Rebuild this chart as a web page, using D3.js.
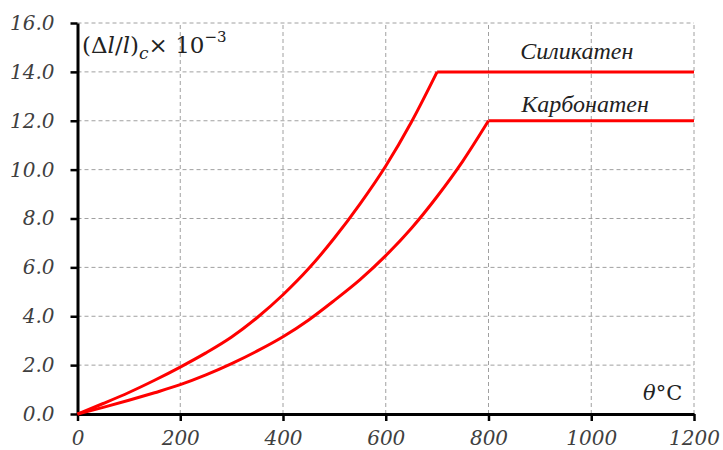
<!DOCTYPE html>
<html><head><meta charset="utf-8">
<script src="https://cdn.jsdelivr.net/npm/d3@7"></script>
<style>body{margin:0;background:#fff}svg{display:block}</style>
</head><body>
<svg id="c" width="723" height="450"></svg>
<script>
const xTicks = [0, 200, 400, 600, 800, 1000, 1200];
const yTicks = [0, 2, 4, 6, 8, 10, 12, 14, 16];
const silicateT = [0, 50, 100, 150, 200, 250, 300, 350, 400, 450, 500, 550, 600, 650, 700];
const silicateV = [0, 0.43, 0.88, 1.38, 1.92, 2.5, 3.15, 3.95, 4.88, 5.95, 7.2, 8.6, 10.15, 11.95, 14.0];
const silicatePlateau = [[700, 14.0], [1200, 14.0]];
const carbonateT = [0, 50, 100, 150, 200, 250, 300, 350, 400, 450, 500, 550, 600, 650, 700, 750, 800];
const carbonateV = [0, 0.27, 0.56, 0.87, 1.2, 1.6, 2.06, 2.58, 3.16, 3.85, 4.65, 5.5, 6.48, 7.6, 8.9, 10.35, 12.0];
const carbonatePlateau = [[800, 12.0], [1200, 12.0]];
const labels = [{text: "Силикатен", t: 972, v: 14.0, dy: -13}, {text: "Карбонатен", t: 988, v: 12.0, dy: -9}];

const svg = d3.select("#c");
const L = 77.5, R = 694, T = 23, B = 414;
const x = d3.scaleLinear().domain([0, 1200]).range([L, R]);
const y = d3.scaleLinear().domain([0, 16]).range([B, T]);

// grid
const g = svg.append("g");
g.selectAll("line.v").data(xTicks.slice(1)).join("line")
  .attr("x1", d => x(d)).attr("x2", d => x(d)).attr("y1", B).attr("y2", T)
  .attr("stroke", "#a0a0a0").attr("stroke-width", 1).attr("stroke-dasharray", "4,3");
g.selectAll("line.h").data(yTicks.slice(1)).join("line")
  .attr("x1", L).attr("x2", R).attr("y1", d => y(d)).attr("y2", d => y(d))
  .attr("stroke", "#a0a0a0").attr("stroke-width", 1).attr("stroke-dasharray", "4,3");

// axes
const fmtY = d3.format(".1f");
const ax = svg.append("g").attr("transform", `translate(0,${B})`)
  .call(d3.axisBottom(x).tickValues(xTicks).tickFormat(d3.format("d")).tickSize(7).tickPadding(6).tickSizeOuter(0));
const ay = svg.append("g").attr("transform", `translate(${L},0)`)
  .call(d3.axisLeft(y).tickValues(yTicks).tickFormat(fmtY).tickSize(7).tickPadding(16).tickSizeOuter(0));
[ax, ay].forEach(a => {
  a.select(".domain").attr("stroke", "#000").attr("stroke-width", 3);
  a.selectAll(".tick line").attr("stroke", "#000").attr("stroke-width", 2.5);
  a.selectAll(".tick text").attr("font-family", "DejaVu Serif").attr("font-style", "italic")
    .attr("font-size", 20).attr("fill", "#404040");
});
ax.selectAll(".tick text").attr("dy", "0.9em");

// lines
const line = d3.line().x(d => x(d[0])).y(d => y(d[1]));
const curve = d3.line().x(d => x(d[0])).y(d => y(d[1])).curve(d3.curveMonotoneX);
const series = [
  {pts: silicateT.map((t, i) => [t, silicateV[i]]), plateau: silicatePlateau},
  {pts: carbonateT.map((t, i) => [t, carbonateV[i]]), plateau: carbonatePlateau}
];
series.forEach(s => {
  svg.append("path").attr("d", curve(s.pts)).attr("fill", "none")
    .attr("stroke", "#ff0000").attr("stroke-width", 3).attr("stroke-linejoin", "round");
  svg.append("path").attr("d", line(s.plateau)).attr("fill", "none")
    .attr("stroke", "#ff0000").attr("stroke-width", 3);
});

// series labels
labels.forEach(l => {
  svg.append("text").attr("x", x(l.t)).attr("y", y(l.v) + l.dy)
    .attr("text-anchor", "middle").attr("font-family", "Liberation Serif")
    .attr("font-style", "italic").attr("font-size", 24).attr("fill", "#222").text(l.text);
});

// y-axis title
const yt = svg.append("text").attr("x", 82).attr("y", 53)
  .attr("font-family", "DejaVu Serif").attr("font-size", 23).attr("fill", "#222");
yt.append("tspan").text("(Δ");
yt.append("tspan").attr("font-style", "italic").text("l");
yt.append("tspan").text("/");
yt.append("tspan").attr("font-style", "italic").text("l");
yt.append("tspan").text(")");
yt.append("tspan").attr("font-style", "italic").attr("font-size", 17).attr("dy", 6).text("c");
yt.append("tspan").attr("dy", -6).text("× 10");
yt.append("tspan").attr("font-size", 15).attr("dy", -11).text("−3");

// x-axis title
const xt = svg.append("text").attr("x", 643).attr("y", 400)
  .attr("font-family", "DejaVu Serif").attr("font-size", 21).attr("fill", "#222");
xt.append("tspan").attr("font-style", "italic").text("θ");
xt.append("tspan").text("°C");
</script>
</body></html>
